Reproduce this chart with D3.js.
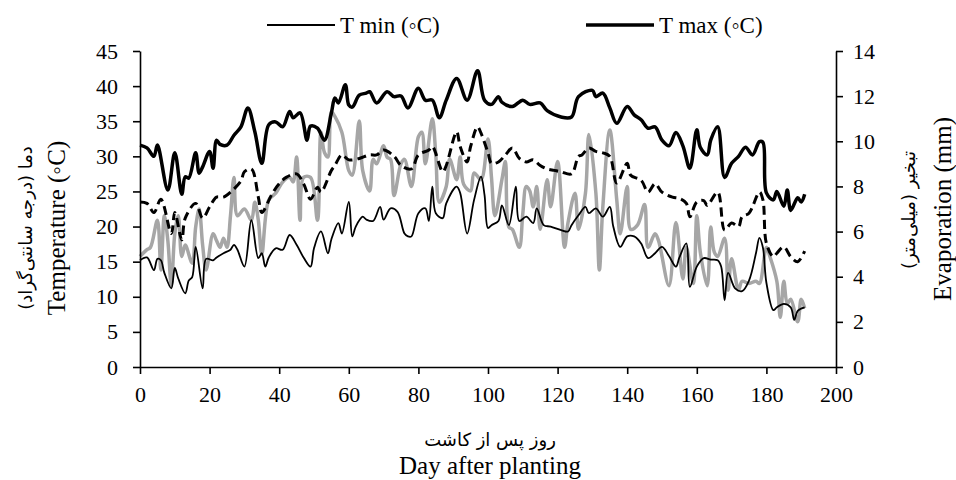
<!DOCTYPE html>
<html>
<head>
<meta charset="utf-8">
<script src="https://cdn.jsdelivr.net/npm/d3@7.9.0/dist/d3.min.js"></script>
<style>
  body { margin: 0; background: #fff; }
  text { font-family: "Liberation Serif", "Times New Roman", serif; fill: #000; }
  text.fa { font-family: "DejaVu Sans", sans-serif; }
</style>
</head>
<body>
<svg id="chart" width="956" height="480"></svg>
<script>
// day after planting / daily values
const tmaxDays = [0,2,4,5,8,10,12,13,14,16,17,18,20,21,22,23,25,27,29,31,33,35,37,39,41,43,44,46,48,49,51,53,55,56,57,59,60,61,63,65,66,68,71,73,75,77,80,82,84,86,88,91,94,97,99,101,103,104,107,110,112,115,117,121,124,126,130,131,133,135,137,140,142,144,146,148,150,152,154,156,158,160,161,163,164,166,168,170,172,174,176,178,179,180,182,183,185,186,187,189,190,191];
const tmaxVals = [31.6,31.2,30.0,31.6,25.2,30.5,24.6,27.1,26.9,30.5,27.6,28.5,30.7,28.3,32.3,31.7,31.6,33.0,34.2,36.9,33.5,29.0,34.5,34.9,34.2,36.4,35.5,36.2,32.3,34.3,34.0,32.3,36.2,38.3,37.6,40.2,37.3,37.0,38.7,39.0,39.2,37.6,39.2,38.5,38.6,36.9,39.7,38.0,38.0,35.5,38.0,41.1,38.0,42.2,38.0,37.4,38.5,37.7,37.1,38.0,37.4,37.6,36.5,35.6,35.6,38.5,39.4,38.5,39.0,36.9,34.7,37.1,35.9,35.2,34.0,34.2,32.3,31.5,33.4,31.5,28.3,33.8,31.3,30.2,32.3,34.2,27.0,29.0,30.0,31.3,30.2,32.1,32.0,24.8,23.8,25.0,22.9,25.2,22.3,24.1,23.5,24.6];

const tminDays = [0,2,4,5,6,7,9,10,11,13,14,15,16,18,19,21,22,24,26,27,28,30,32,34,35,36,37,39,41,43,45,47,49,50,52,54,55,57,58,60,61,62,64,65,67,69,70,72,74,76,77,78,80,82,83,84,85,87,88,91,92,94,96,98,99,100,101,103,104,106,108,109,111,113,114,116,118,121,123,124,126,128,129,131,133,135,136,138,140,142,144,146,148,150,152,154,155,157,158,160,162,164,166,167,168,169,171,173,175,177,178,179,180,182,183,185,187,188,189,191];
const tminVals = [15.2,15.6,13.8,15.4,15.2,13.4,11.2,14.1,12.6,10.5,12.3,12.8,17.1,11.2,15.4,15.2,15.6,16.2,16.7,17.4,16.7,14.3,20.9,15.5,16.2,14.3,15.6,16.9,16.7,18.8,17.4,15.6,14.3,16.9,19.3,16.2,18.2,20.5,19.0,23.5,18.6,20.0,21.4,21.0,20.8,22.8,21.0,22.6,22.1,19.0,18.6,18.6,21.9,22.6,20.8,25.7,21.9,21.2,23.3,25.7,24.8,19.0,23.8,27.1,24.5,19.8,20.2,20.8,23.0,20.2,25.7,20.8,21.4,20.5,22.6,20.2,20.0,19.5,19.3,20.2,21.6,22.8,21.9,22.6,21.4,22.8,20.0,17.1,18.6,18.6,17.6,15.5,16.2,17.1,15.8,14.3,15.6,17.6,11.4,14.3,15.5,15.3,15.2,14.3,9.5,13.4,11.2,10.8,12.3,16.2,18.4,17.0,12.0,8.1,8.5,9.0,8.5,6.7,8.0,8.5];

const tmeanDays = [0,2,4,6,9,10,12,13,16,18,20,22,24,26,29,30,32,34,35,38,40,42,45,47,49,51,52,55,56,58,60,63,66,68,70,73,75,78,80,83,84,87,88,91,92,94,95,97,98,100,101,103,105,107,109,111,113,115,117,119,121,124,126,127,129,131,133,135,137,140,141,144,146,148,150,153,155,157,158,160,162,163,166,168,170,172,173,175,178,179,180,182,183,185,187,189,191];
const tmeanVals = [23.5,23.3,22.0,23.9,19.0,22.0,18.1,21.2,23.3,21.2,22.8,24.2,24.2,24.9,26.5,27.8,28.2,24.2,22.0,24.7,26.1,27.0,27.5,26.1,23.9,25.6,24.9,28.0,28.7,30.2,29.5,29.7,30.2,30.2,30.9,30.0,28.7,28.2,30.2,30.9,31.4,27.8,28.7,33.5,31.4,29.2,31.4,34.2,33.3,30.5,29.0,29.2,30.2,31.2,29.7,29.2,29.5,28.7,28.2,28.0,27.8,27.5,30.0,30.2,31.2,30.7,30.5,30.0,26.2,29.0,27.3,26.6,24.9,26.1,24.9,24.2,24.0,23.3,21.4,23.5,23.7,23.0,24.9,19.5,20.5,20.0,21.4,21.9,24.9,23.8,17.6,15.7,16.2,17.1,15.7,15.0,16.5];

const evapDays = [0,2,3,5,6,7,8,9,10,11,12,13,15,16,17,18,19,21,22,23,24,25,26,27,28,30,32,33,34,35,37,39,41,43,44,45,46,47,49,51,52,53,54,55,56,58,60,61,63,64,66,67,68,70,71,72,73,75,76,78,80,81,82,84,85,86,88,89,91,92,93,95,96,98,100,101,102,104,105,106,107,109,110,111,112,113,114,115,117,118,120,122,123,125,126,128,129,131,132,133,135,137,138,140,141,143,145,146,148,149,152,154,156,157,159,160,161,163,164,165,166,168,169,170,172,173,175,177,178,180,181,183,184,185,186,187,189,190,191];
const evapVals = [4.9,5.2,5.3,6.5,4.3,6.7,5.6,3.6,5.9,6.7,4.9,5.4,4.6,6.2,7.0,5.4,4.3,5.9,5.6,5.3,5.7,5.3,6.7,8.4,6.7,7.0,6.5,7.3,6.5,5.0,7.4,7.7,8.2,8.4,8.2,9.3,6.5,8.4,8.4,6.5,10.4,9.5,9.3,11.3,11.1,10.4,8.7,8.5,10.9,8.7,7.8,9.2,9.0,9.8,9.3,9.2,7.6,9.0,9.2,8.0,10.2,10.4,9.0,11.0,9.4,7.3,8.0,9.2,8.3,9.3,8.1,7.8,8.6,8.3,10.1,8.4,6.7,8.3,9.1,6.2,6.1,5.3,6.8,8.0,7.8,7.1,8.0,6.1,8.3,7.1,9.1,5.3,6.4,7.7,6.1,7.7,10.3,7.7,4.3,7.1,10.5,7.4,5.9,8.0,6.1,6.3,7.2,5.3,5.9,5.6,3.6,6.4,3.9,5.3,3.7,6.7,5.1,3.6,6.2,5.1,4.9,5.7,3.4,4.8,3.4,3.8,3.7,3.8,3.7,5.3,4.9,3.8,2.2,3.8,2.8,3.0,2.0,3.0,2.6];

const xTicks = [0,20,40,60,80,100,120,140,160,180,200];
const tempTicks = [0,5,10,15,20,25,30,35,40,45];
const evapTicks = [0,2,4,6,8,10,12,14];

const serif = '"Liberation Serif", "Times New Roman", serif';
const svg = d3.select('#chart');
const plotL = 140, plotR = 836, plotT = 51, plotB = 367;

const x = d3.scaleLinear().domain([0, 200]).range([plotL, plotR]);
const yT = d3.scaleLinear().domain([0, 45]).range([plotB, plotT]);
const yE = d3.scaleLinear().domain([0, 14]).range([plotB, plotT]);

function zip(days, vals) {
  return days.map((d, i) => [d, vals[i]]);
}

const lineT = d3.line().x(d => x(d[0])).y(d => yT(d[1])).curve(d3.curveCatmullRom.alpha(0.5));
const lineE = d3.line().x(d => x(d[0])).y(d => yE(d[1])).curve(d3.curveCatmullRom.alpha(0.5));

// gray evaporation first, then the temperature lines over it
svg.append('path').attr('d', lineE(zip(evapDays, evapVals)))
  .attr('fill', 'none').attr('stroke', '#a6a6a6').attr('stroke-width', 3.5)
  .attr('stroke-linejoin', 'round');

svg.append('path').attr('d', lineT(zip(tmeanDays, tmeanVals)))
  .attr('fill', 'none').attr('stroke', '#000').attr('stroke-width', 3)
  .attr('stroke-dasharray', '9,5');

svg.append('path').attr('d', lineT(zip(tminDays, tminVals)))
  .attr('fill', 'none').attr('stroke', '#000').attr('stroke-width', 1.8)
  .attr('stroke-linejoin', 'round');

svg.append('path').attr('d', lineT(zip(tmaxDays, tmaxVals)))
  .attr('fill', 'none').attr('stroke', '#000').attr('stroke-width', 3.5)
  .attr('stroke-linejoin', 'round');

// axes
function styleAxis(g) {
  g.attr('font-family', serif).attr('font-size', 22);
  g.selectAll('path, line').attr('stroke', '#000').attr('stroke-width', 1.6);
  g.selectAll('text').attr('font-family', serif).style('font-family', serif).style('font-size', '22px');
}

svg.append('g').attr('transform', `translate(0,${plotB})`)
  .call(d3.axisBottom(x).tickValues(xTicks).tickSize(7).tickSizeOuter(0).tickPadding(12))
  .call(styleAxis);

svg.append('g').attr('transform', `translate(${plotL},0)`)
  .call(d3.axisLeft(yT).tickValues(tempTicks).tickSize(7).tickSizeOuter(0).tickPadding(15))
  .call(styleAxis);

svg.append('g').attr('transform', `translate(${plotR},0)`)
  .call(d3.axisRight(yE).tickValues(evapTicks).tickSize(7).tickSizeOuter(0).tickPadding(10))
  .call(styleAxis);

// axis titles
function title(str, tx, ty, rot, size, fa) {
  const t = svg.append('text')
    .attr('transform', `translate(${tx},${ty})` + (rot ? ' rotate(-90)' : ''))
    .attr('text-anchor', 'middle')
    .style('font-size', size + 'px')
    .text(str);
  if (fa) t.attr('class', 'fa').attr('direction', 'rtl');
  else t.style('font-family', serif);
}

title('دما (درجه سانتی‌گراد)', 32, 228, true, 18, true);
title('Temperature (◦C)', 65, 228, true, 25, false);
title('تبخیر (میلی‌متر)', 915, 210, true, 18, true);
title('Evaporation (mm)', 951, 209, true, 25, false);
title('روز پس از کاشت', 490, 446, false, 18, true);
title('Day after planting', 490, 474, false, 25, false);

// legend
const legend = [
  { label: 'T min (◦C)', width: 1.8, x0: 267 },
  { label: 'T max (◦C)', width: 3.5, x0: 586 }
];
legend.forEach(d => {
  svg.append('line').attr('x1', d.x0).attr('x2', d.x0 + 68).attr('y1', 25).attr('y2', 25)
    .attr('stroke', '#000').attr('stroke-width', d.width);
  svg.append('text').attr('x', d.x0 + 73).attr('y', 33)
    .style('font-family', serif).style('font-size', '23px').text(d.label);
});
</script>
</body>
</html>
